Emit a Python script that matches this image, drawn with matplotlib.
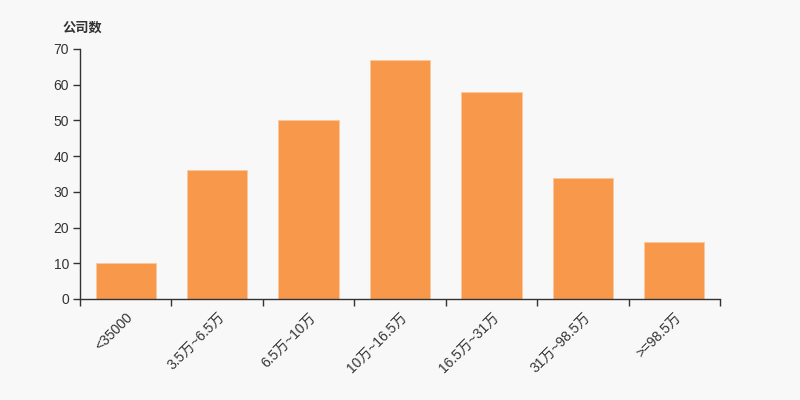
import matplotlib
matplotlib.use("Agg")
import matplotlib.pyplot as plt
import numpy as np

plt.rcParams['font.family'] = ['Liberation Sans', 'Noto Sans CJK SC', 'DejaVu Sans']

categories = ["<35000", "3.5万~6.5万", "6.5万~10万", "10万~16.5万", "16.5万~31万", "31万~98.5万", ">=98.5万"]
values = [10, 36, 50, 67, 58, 34, 16]
yticks = [0, 10, 20, 30, 40, 50, 60, 70]

bg = "#f8f8f8"
fig = plt.figure(figsize=(8, 4), dpi=100, facecolor=bg)
ax = fig.add_axes([0.1, 0.2525, 0.8, 0.625])
ax.set_facecolor(bg)

x = np.arange(len(categories))
ax.bar(x, values, width=0.66, color="#f7984a", edgecolor="#fbc9a0", linewidth=0.6, zorder=2)

ax.set_xlim(-0.5, len(categories) - 0.5)
ax.set_ylim(0, 70)
ax.set_yticks(yticks)
ax.set_yticklabels([str(v) for v in yticks], fontsize=10, color="#333333")

ax.set_xticks(np.arange(len(categories) + 1) - 0.5, minor=False)
ax.set_xticklabels([])
ax.set_xticks(x, minor=True)
ax.set_xticklabels(categories, minor=True, rotation=45, ha='right', rotation_mode='anchor',
                   fontsize=10, color="#333333")
ax.tick_params(axis='x', which='major', length=5, color="#333333", width=1)
ax.tick_params(axis='x', which='minor', length=0, pad=8)
ax.tick_params(axis='y', length=5, color="#333333", width=1, pad=3)

for s in ['top', 'right']:
    ax.spines[s].set_visible(False)
for s in ['left', 'bottom']:
    ax.spines[s].set_color("#333333")
    ax.spines[s].set_linewidth(1)

fig.text(0.078, 0.932, "公司数", fontsize=9.5, fontweight='bold', color="#333333", ha='left', va='center',
         family=['Noto Sans CJK SC', 'DejaVu Sans'])

fig.savefig("out.png", dpi=100, facecolor=bg)
